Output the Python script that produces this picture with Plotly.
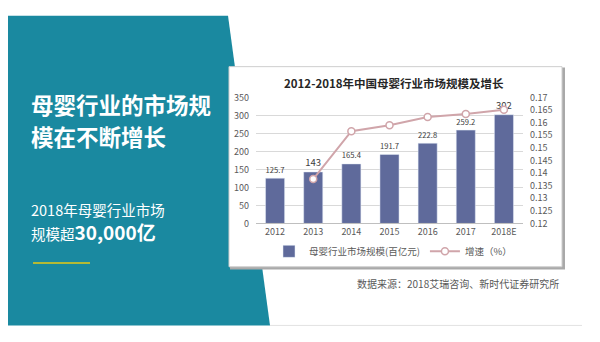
import plotly.graph_objects as go

# Market size (hundred-million yuan x100) and year-on-year growth
years = ["2012", "2013", "2014", "2015", "2016", "2017", "2018E"]
market_size = [125.7, 143, 165.4, 191.7, 222.8, 259.2, 302]
growth_years = ["2013", "2014", "2015", "2016", "2017", "2018E"]
growth_rate = [0.1376, 0.1566, 0.1590, 0.1622, 0.1634, 0.1651]

W, H = 600, 342
FONT = "Noto Sans CJK SC"


def px(x):
    return x / W


def py(y):
    return 1 - y / H


fig = go.Figure()

fig.add_trace(go.Bar(
    x=years, y=market_size, name="母婴行业市场规模(百亿元)",
    marker_color="#5f6a9b", width=0.5,
    text=[f"{v:g}" for v in market_size], textposition="outside",
    textfont=dict(size=9.5, color="#404040", family=FONT),
    cliponaxis=False,
))

fig.add_trace(go.Scatter(
    x=growth_years, y=growth_rate, name="增速（%）", yaxis="y2",
    mode="lines+markers",
    line=dict(color="#d0a5aa", width=2),
    marker=dict(symbol="circle", size=7, color="white",
                line=dict(color="#d0a5aa", width=1.5)),
))

shapes = [
    # teal side panel
    dict(type="path", xref="paper", yref="paper", layer="below",
         path=f"M {px(8)} {py(9)} L {px(228)} {py(9)} L {px(270)} {py(331)} L {px(8)} {py(331)} Z",
         fillcolor="#1a89a0", line=dict(width=0)),
    # faint slide baseline
    dict(type="line", xref="paper", yref="paper", layer="below",
         x0=px(270), x1=px(582), y0=py(331), y1=py(331),
         line=dict(color="#e2e2e2", width=1)),
    # chart card shadow
    dict(type="rect", xref="paper", yref="paper", layer="below",
         x0=px(230), x1=px(565), y0=py(273), y1=py(63),
         fillcolor="#a9a9a9", line=dict(width=0)),
    # chart card
    dict(type="rect", xref="paper", yref="paper", layer="below",
         x0=px(229), x1=px(562), y0=py(270), y1=py(62),
         fillcolor="white", line=dict(color="#cfcfcf", width=1)),
    # accent rule under the headline
    dict(type="line", xref="paper", yref="paper",
         x0=px(33), x1=px(90), y0=py(266), y1=py(266),
         line=dict(color="#b4b935", width=2)),
]


def left_text(text, y, size, bold=False):
    return dict(text=f"<b>{text}</b>" if bold else text,
                x=px(31), y=py(y), xref="paper", yref="paper",
                xanchor="left", yanchor="middle", align="left",
                showarrow=False, borderpad=0, borderwidth=0,
                font=dict(size=size, color="white", family=FONT))


annotations = [
    dict(text="<b>2012-2018年中国母婴行业市场规模及增长</b>",
         x=px(394), y=py(79), xref="paper", yref="paper",
         xanchor="center", yanchor="middle", showarrow=False,
         font=dict(size=11.5, color="#262626", family=FONT)),
    left_text("母婴行业的市场规", 100.5, 22.5, bold=True),
    left_text("模在不断增长", 134, 22.5, bold=True),
    left_text("2018年母婴行业市场", 210.5, 14.5),
    left_text('规模超<span style="font-size:19px"><b>30,000亿</b></span>', 233, 14.5),
    dict(text="数据来源：2018艾瑞咨询、新时代证券研究所",
         x=px(561), y=py(287), xref="paper", yref="paper",
         xanchor="right", yanchor="middle", showarrow=False,
         font=dict(size=10, color="#595959", family=FONT)),
]

fig.update_layout(
    width=W, height=H,
    margin=dict(l=0, r=0, t=0, b=0),
    paper_bgcolor="white", plot_bgcolor="rgba(0,0,0,0)",
    font=dict(family=FONT, color="#595959", size=9),
    bargap=0.5,
    xaxis=dict(domain=[px(256), px(523)], showgrid=False,
               showline=True, linecolor="#bfbfbf", ticks="",
               tickfont=dict(size=9, color="#595959")),
    yaxis=dict(range=[0, 350], dtick=50, showgrid=True,
               gridcolor="#d9d9d9", zeroline=False,
               domain=[py(225), py(94)], ticklabelstandoff=6,
               tickfont=dict(size=9, color="#595959")),
    yaxis2=dict(range=[0.12, 0.17], dtick=0.005, overlaying="y",
                side="right", showgrid=False, zeroline=False,
                ticklabelstandoff=6,
                tickfont=dict(size=9, color="#595959")),
    legend=dict(orientation="h", x=px(393), y=py(254),
                xanchor="center", yanchor="middle",
                font=dict(size=9.5, color="#595959", family=FONT),
                bgcolor="rgba(0,0,0,0)", itemwidth=30,
                entrywidth=0, tracegroupgap=0),
    shapes=shapes,
    annotations=annotations,
)

fig.write_html("out.html")
